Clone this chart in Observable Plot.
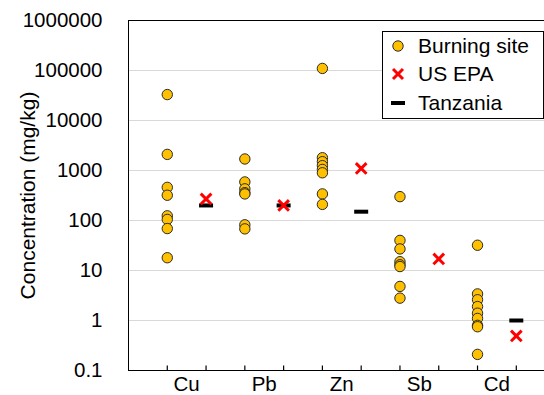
<!DOCTYPE html>
<html>
<head>
<meta charset="utf-8">
<script src="https://cdn.jsdelivr.net/npm/d3@7"></script>
<script src="https://cdn.jsdelivr.net/npm/@observablehq/plot@0.6"></script>
<style>
  html, body { margin: 0; padding: 0; background: #fff; }
  #wrap { position: relative; width: 544px; height: 395px; overflow: hidden; font-family: "Liberation Sans", Arial, sans-serif; }
  #legend { position: absolute; left: 382px; top: 31px; width: 160px; height: 86px; border: 1px solid #000; background: #fff; }
  .item { position: absolute; left: 0; height: 28px; display: flex; align-items: center; font-size: 21px; color: #000; white-space: nowrap; }
  .item svg { width: 30px; height: 28px; margin-right: 5px; }
</style>
</head>
<body>
<div id="wrap"></div>
<script>
const elements = ["Cu", "Pb", "Zn", "Sb", "Cd"];
const cuSite = [33000, 2100, 460, 320, 124, 105, 69, 18];
const pbSite = [1700, 590, 430, 360, 340, 82, 68];
const znSite = [110000, 1800, 1500, 1250, 1050, 900, 340, 210];
const sbSite = [300, 40, 27, 15, 13, 12, 4.8, 2.8];
const cdSite = [32, 3.4, 2.6, 1.9, 1.4, 1.1, 0.8, 0.75, 0.21];
const usEpa = [270, 200, 1100, 17, 0.49];
const tanzania = [200, 200, 150, null, 1.0];
const yTicks = [0.1, 1, 10, 100, 1000, 10000, 100000, 1000000];

const siteSeries = [cuSite, pbSite, znSite, sbSite, cdSite];
const sites = siteSeries.flatMap((vals, i) => vals.map(v => ({slot: 2 * i + 1, value: v})));
const epa = usEpa.map((v, i) => ({slot: 2 * i + 2, value: v}));
const tz = tanzania.map((v, i) => ({slot: 2 * i + 2, value: v})).filter(d => d.value != null);
const slots = d3.range(1, 2 * elements.length + 1);
const labelPos = elements.map((e, i) => 2 * i + 1.5);
const yMin = yTicks[0];

const dash = {
  draw(ctx, size) {
    const w = Math.sqrt(size / Math.PI);
    ctx.moveTo(-w, 0);
    ctx.lineTo(w, 0);
  }
};
const upTick = {
  draw(ctx, size) {
    const h = Math.sqrt(size / Math.PI);
    ctx.moveTo(0, 0);
    ctx.lineTo(0, -h);
  }
};

const font = '"Liberation Sans", Arial, sans-serif';
const chart = Plot.plot({
  width: 544,
  height: 395,
  marginLeft: 128,
  marginTop: 20,
  marginBottom: 25,
  marginRight: 0,
  style: {fontFamily: font, fontSize: "20.5px", color: "#000", background: "#fff"},
  x: {domain: [0, 10.727]},
  y: {type: "log", domain: [0.1, 1000000]},
  marks: [
    Plot.gridY(yTicks.slice(1, -1), {stroke: "#d9d9d9", strokeOpacity: 1}),
    Plot.axisY(yTicks, {tickSize: 0, tickPadding: 26, tickFormat: d => String(d), label: null}),
    Plot.axisY({tickSize: 0, ticks: [], label: "Concentration (mg/kg)", labelAnchor: "center", labelArrow: "none", labelOffset: 108, fontSize: 21}),
    Plot.axisX(labelPos, {tickSize: 0, tickPadding: 6, tickFormat: (d, i) => elements[i], label: null}),
    Plot.ruleY([0.1, 1000000], {stroke: "#000", strokeWidth: 1}),
    Plot.ruleX([0], {stroke: "#000", strokeWidth: 1}),
    Plot.dot(slots, {x: d => d, y: () => yMin, symbol: upTick, r: 5, stroke: "#000", strokeWidth: 1.2}),
    Plot.dot(sites, {x: "slot", y: "value", r: 5.2, fill: "#FFC000", stroke: "#2a2a2a", strokeWidth: 1}),
    Plot.dot(tz, {x: "slot", y: "value", symbol: dash, r: 7, stroke: "#000", strokeWidth: 4}),
    Plot.dot(epa, {x: "slot", y: "value", symbol: "times", r: 4.9, stroke: "#ff0000", strokeWidth: 3})
  ]
});

const wrap = document.getElementById("wrap");
wrap.appendChild(chart);

const legend = document.createElement("div");
legend.id = "legend";
legend.innerHTML = `
  <div class="item" style="top:0px"><svg viewBox="-15 -14 30 28"><circle r="5.2" fill="#FFC000" stroke="#2a2a2a" stroke-width="1"/></svg>Burning site</div>
  <div class="item" style="top:28px"><svg viewBox="-15 -14 30 28"><path d="M-5,-5L5,5M-5,5L5,-5" stroke="#ff0000" stroke-width="3" fill="none"/></svg>US EPA</div>
  <div class="item" style="top:57px"><svg viewBox="-15 -14 30 28"><path d="M-7,0L7,0" stroke="#000" stroke-width="4"/></svg>Tanzania</div>`;
wrap.appendChild(legend);
</script>
</body>
</html>
